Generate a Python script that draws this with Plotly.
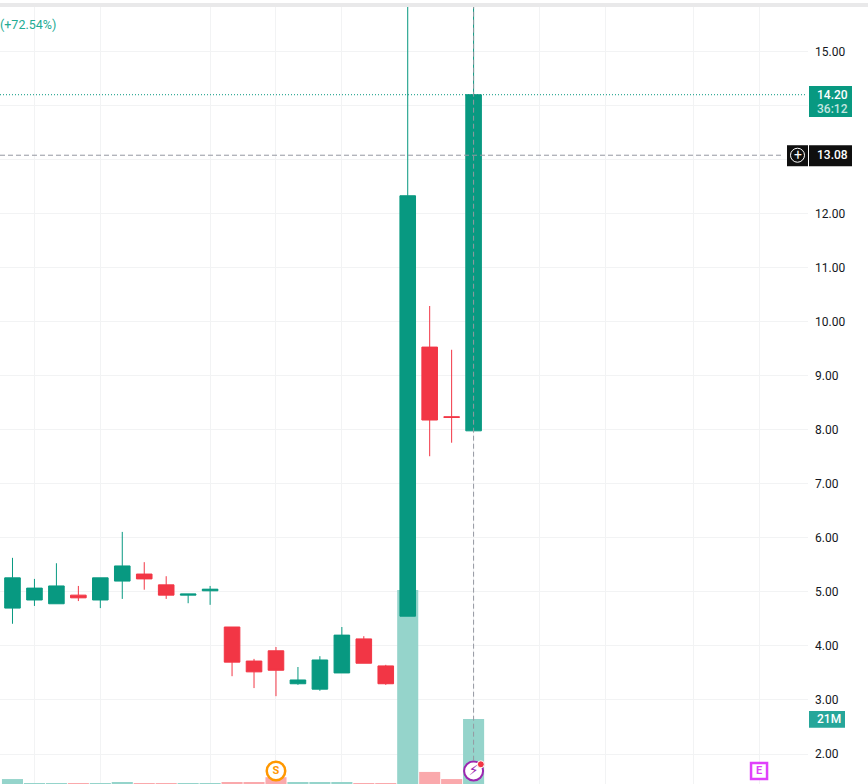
import plotly.graph_objects as go

# Session candles, one entry per trading bar
opens = [4.70, 4.85, 4.78, 4.94, 4.85, 5.20, 5.33, 5.13, 4.94, 5.02, 4.35, 3.72, 3.91, 3.30, 3.20, 3.50, 4.13, 3.63, 4.55, 9.53, 8.24, 7.98]
highs = [5.63, 5.24, 5.53, 5.11, 5.26, 6.11, 5.55, 5.29, 4.96, 5.11, 4.35, 3.76, 3.98, 3.61, 3.81, 4.35, 4.18, 3.65, 16.50, 10.29, 9.48, 16.50]
lows = [4.41, 4.74, 4.78, 4.83, 4.70, 4.87, 5.04, 4.87, 4.79, 4.76, 3.44, 3.22, 3.07, 3.28, 3.17, 3.50, 3.68, 3.28, 4.55, 7.51, 7.76, 7.98]
closes = [5.26, 5.07, 5.11, 4.89, 5.26, 5.48, 5.24, 4.94, 4.96, 5.05, 3.70, 3.52, 3.55, 3.37, 3.74, 4.20, 3.68, 3.30, 12.33, 8.18, 8.23, 14.20]
volumes_m = [1.6, 0.3, 0.3, 0.3, 0.3, 0.65, 0.3, 0.3, 0.3, 0.3, 0.65, 0.65, 2.2, 0.65, 0.65, 0.65, 0.3, 0.3, 62.7, 3.9, 1.6, 21.0]

price_ticks = [2, 3, 4, 5, 6, 7, 8, 9, 10, 11, 12, 13, 14, 15]
# 13.00 and 14.00 sit under the price tags, so they keep a gridline but no label
price_labels = ["2.00", "3.00", "4.00", "5.00", "6.00", "7.00", "8.00", "9.00", "10.00", "11.00", "12.00", "", "", "15.00"]
time_grid = [1, 4, 9, 12, 15, 18, 21, 24, 27, 31, 34]
last_price = 14.20
cursor_price = 13.08
cursor_bar = 21
last_volume = 21.0
split_bar = 12
news_bar = 21
earnings_bar = 34
marker_level = 1.685
change_text = "(+72.54%)"
countdown_text = "36:12"

UP = "#089981"
DOWN = "#f23645"
UP_VOL = "#95d4cb"
DOWN_VOL = "#faa9ac"
GRID = "#f2f3f4"
CROSS = "#9598a1"
FONT = "Roboto, sans-serif"

bars = list(range(len(opens)))
vol_colors = [UP_VOL if c >= o else DOWN_VOL for o, c in zip(opens, closes)]

fig = go.Figure()

fig.add_trace(go.Bar(
    x=bars, y=volumes_m, yaxis="y", marker=dict(color=vol_colors, line_width=0),
    width=0.96, hoverinfo="skip", showlegend=False,
))
fig.add_trace(go.Candlestick(
    x=bars, open=opens, high=highs, low=lows, close=closes, yaxis="y2",
    increasing=dict(line=dict(color=UP, width=1), fillcolor=UP),
    decreasing=dict(line=dict(color=DOWN, width=1), fillcolor=DOWN),
    whiskerwidth=0, showlegend=False,
))


def badge(bar, label, symbol, size, color, line_width, text_size, family=FONT):
    """Corporate event badge along the bottom of the pane."""
    return go.Scatter(
        x=[bar], y=[marker_level], yaxis="y2", mode="markers+text", text=[label],
        textposition="middle center",
        textfont=dict(family=family, size=text_size, color=color, weight="bold"),
        marker=dict(symbol=symbol, size=size, color="white", line=dict(color=color, width=line_width)),
        hoverinfo="skip", showlegend=False,
    )


fig.add_trace(badge(split_bar, "S", "circle", 18.5, "#ff9800", 2.5, 11))
fig.add_trace(badge(news_bar, "⚡", "circle", 19, "#9c27b0", 2, 14, family="DejaVu Sans"))
fig.add_trace(badge(earnings_bar, "E", "square", 16, "#e040fb", 2.5, 11))
# Unread dot on the news badge
fig.add_trace(go.Scatter(
    x=[news_bar + 0.33], y=[marker_level + 0.125], yaxis="y2", mode="markers",
    marker=dict(symbol="circle", size=7, color=DOWN, line=dict(color="white", width=1)),
    hoverinfo="skip", showlegend=False,
))


def price_tag(level, up, down, x0, x1, color, yref="y2"):
    return dict(
        type="rect", layer="above", xref="paper", yref=yref, ysizemode="pixel",
        yanchor=level, y0=-down, y1=up, x0=x0 / 808, x1=x1 / 808,
        fillcolor=color, line_width=0,
    )


shapes = [
    # Band along the top edge of the pane
    dict(type="rect", xref="paper", yref="paper", x0=0, x1=868 / 808, y0=1, y1=1 + 4 / 777,
         fillcolor="#e9e9ea", line_width=0, layer="above"),
    # Last price and crosshair
    dict(type="line", xref="paper", yref="y2", x0=0, x1=806 / 808, y0=last_price, y1=last_price,
         line=dict(color=UP, width=1, dash="1px,2px"), layer="above"),
    dict(type="line", xref="paper", yref="y2", x0=0, x1=781 / 808, y0=cursor_price, y1=cursor_price,
         line=dict(color=CROSS, width=1, dash="5px,3px"), layer="above"),
    dict(type="line", xref="x", yref="paper", x0=cursor_bar, x1=cursor_bar, y0=0.03, y1=1,
         line=dict(color=CROSS, width=1, dash="5px,3px"), layer="above"),
    price_tag(last_price, 8.7, 22.3, 809, 852, UP),
    price_tag(cursor_price, 10, 11, 809, 852, "#0f0f0f"),
    price_tag(cursor_price, 10, 11, 787, 808, "#0f0f0f"),
    price_tag(last_volume, 8, 8.7, 809, 845, "#26a69a", yref="y"),
    # Ring of the crosshair's add button
    dict(type="circle", layer="above", xref="paper", yref="y2", xsizemode="pixel", ysizemode="pixel",
         xanchor=797.5 / 808, yanchor=cursor_price, x0=-7, x1=7, y0=-7, y1=7,
         line=dict(color="white", width=1), fillcolor="rgba(0,0,0,0)"),
]


def tag_text(text, level, x, yshift=0, color="white", size=12, yref="y2", weight=500):
    return dict(
        text=text, x=x / 808, xref="paper", y=level, yref=yref, yshift=yshift,
        showarrow=False, xanchor="center", yanchor="middle",
        font=dict(family=FONT, size=size, color=color, weight=weight),
    )


annotations = [
    tag_text(f"{last_price:.2f}", last_price, 832),
    tag_text(countdown_text, last_price, 832, yshift=-14, color="#c4e6e0"),
    tag_text(f"{cursor_price:.2f}", cursor_price, 832),
    tag_text("+", cursor_price, 797.5, size=14, weight=400),
    tag_text(f"{last_volume:.0f}M", last_volume, 828.5, yref="y"),
    dict(text=change_text, x=0, xref="paper", xanchor="left", xshift=-2,
         y=1 - (24 - 7) / 777, yref="paper", yanchor="middle", showarrow=False,
         font=dict(family=FONT, size=12.5, color="#22ab94")),
]

fig.update_layout(
    width=868, height=784, autosize=False,
    margin=dict(l=0, r=60, t=7, b=0),
    paper_bgcolor="white", plot_bgcolor="white",
    boxgap=0, boxgroupgap=0.29,
    showlegend=False, hovermode=False,
    shapes=shapes, annotations=annotations,
    xaxis=dict(
        range=[-0.569, 36.23], tickmode="array", tickvals=time_grid, showticklabels=False,
        showgrid=True, gridcolor=GRID, gridwidth=1, zeroline=False, showline=False, ticks="",
        rangeslider=dict(visible=False),
    ),
    yaxis=dict(
        range=[0, 251], visible=False, showgrid=False, zeroline=False, fixedrange=True,
    ),
    yaxis2=dict(
        overlaying="y", side="right", anchor="x", range=[1.445, 15.823],
        tickmode="array", tickvals=price_ticks, ticktext=price_labels,
        showgrid=True, gridcolor=GRID, gridwidth=1, zeroline=False, showline=False, ticks="",
        ticklabelstandoff=6, tickfont=dict(family=FONT, size=12, color="#131722"),
    ),
)

fig.write_html("out.html")
